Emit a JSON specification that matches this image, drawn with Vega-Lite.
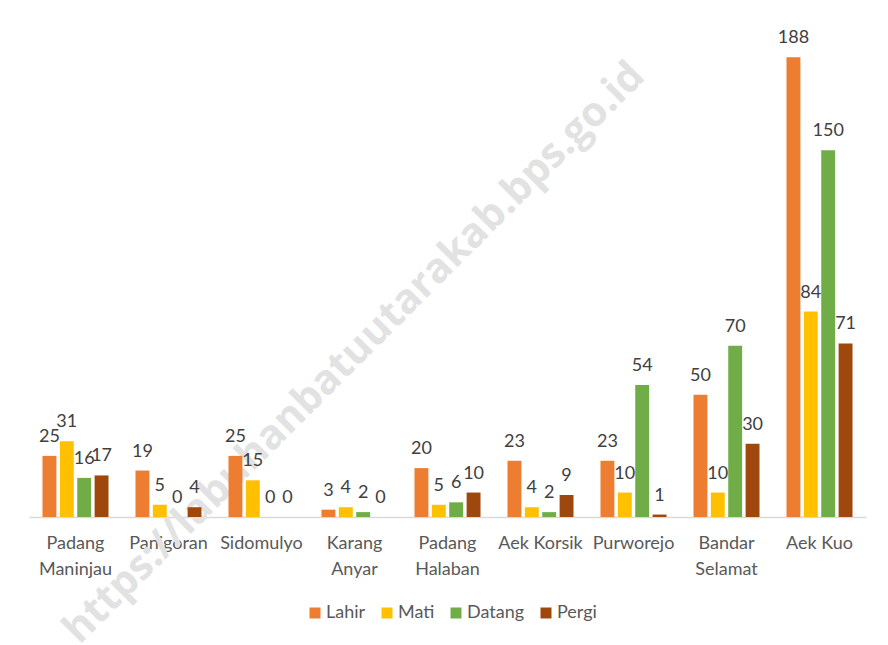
{
  "$schema": "https://vega.github.io/schema/vega-lite/v6.json",
  "width": 837,
  "height": 489,
  "autosize": "none",
  "padding": {"left": 29, "top": 28, "right": 22, "bottom": 128},
  "background": "white",
  "config": {
    "view": {"stroke": null},
    "font": "Lato"
  },
  "datasets": {
    "main": [
      {"desa": "Padang Maninjau", "jenis": "Lahir", "nilai": 25},
      {"desa": "Padang Maninjau", "jenis": "Mati", "nilai": 31},
      {"desa": "Padang Maninjau", "jenis": "Datang", "nilai": 16},
      {"desa": "Padang Maninjau", "jenis": "Pergi", "nilai": 17},
      {"desa": "Panigoran", "jenis": "Lahir", "nilai": 19},
      {"desa": "Panigoran", "jenis": "Mati", "nilai": 5},
      {"desa": "Panigoran", "jenis": "Datang", "nilai": 0},
      {"desa": "Panigoran", "jenis": "Pergi", "nilai": 4},
      {"desa": "Sidomulyo", "jenis": "Lahir", "nilai": 25},
      {"desa": "Sidomulyo", "jenis": "Mati", "nilai": 15},
      {"desa": "Sidomulyo", "jenis": "Datang", "nilai": 0},
      {"desa": "Sidomulyo", "jenis": "Pergi", "nilai": 0},
      {"desa": "Karang Anyar", "jenis": "Lahir", "nilai": 3},
      {"desa": "Karang Anyar", "jenis": "Mati", "nilai": 4},
      {"desa": "Karang Anyar", "jenis": "Datang", "nilai": 2},
      {"desa": "Karang Anyar", "jenis": "Pergi", "nilai": 0},
      {"desa": "Padang Halaban", "jenis": "Lahir", "nilai": 20},
      {"desa": "Padang Halaban", "jenis": "Mati", "nilai": 5},
      {"desa": "Padang Halaban", "jenis": "Datang", "nilai": 6},
      {"desa": "Padang Halaban", "jenis": "Pergi", "nilai": 10},
      {"desa": "Aek Korsik", "jenis": "Lahir", "nilai": 23},
      {"desa": "Aek Korsik", "jenis": "Mati", "nilai": 4},
      {"desa": "Aek Korsik", "jenis": "Datang", "nilai": 2},
      {"desa": "Aek Korsik", "jenis": "Pergi", "nilai": 9},
      {"desa": "Purworejo", "jenis": "Lahir", "nilai": 23},
      {"desa": "Purworejo", "jenis": "Mati", "nilai": 10},
      {"desa": "Purworejo", "jenis": "Datang", "nilai": 54},
      {"desa": "Purworejo", "jenis": "Pergi", "nilai": 1},
      {"desa": "Bandar Selamat", "jenis": "Lahir", "nilai": 50},
      {"desa": "Bandar Selamat", "jenis": "Mati", "nilai": 10},
      {"desa": "Bandar Selamat", "jenis": "Datang", "nilai": 70},
      {"desa": "Bandar Selamat", "jenis": "Pergi", "nilai": 30},
      {"desa": "Aek Kuo", "jenis": "Lahir", "nilai": 188},
      {"desa": "Aek Kuo", "jenis": "Mati", "nilai": 84},
      {"desa": "Aek Kuo", "jenis": "Datang", "nilai": 150},
      {"desa": "Aek Kuo", "jenis": "Pergi", "nilai": 71}
    ],
    "wm": [
      {"desa": "Karang Anyar", "nilai": 67, "teks": "https://labuhanbatuutarakab.bps.go.id"}
    ]
  },
  "encoding": {
    "x": {
      "field": "desa", "type": "nominal",
      "scale": {
        "domain": ["Padang Maninjau", "Panigoran", "Sidomulyo", "Karang Anyar", "Padang Halaban", "Aek Korsik", "Purworejo", "Bandar Selamat", "Aek Kuo"],
        "paddingInner": 0.29, "paddingOuter": 0.145
      },
      "axis": {
        "title": null, "labelAngle": 0, "ticks": false, "domainColor": "#d9d9d9", "domainWidth": 1.5,
        "labelFontSize": 18, "labelColor": "#595959", "labelFont": "Lato", "labelPadding": 17,
        "labelLineHeight": 26, "labelBaseline": "top",
        "labelExpr": "indexof(['Padang Maninjau','Karang Anyar','Padang Halaban','Bandar Selamat'], datum.value) >= 0 ? split(datum.value, ' ') : datum.value"
      }
    },
    "y": {
      "field": "nilai", "type": "quantitative",
      "scale": {"domain": [0, 200], "nice": false},
      "axis": null
    }
  },
  "layer": [
    {
      "data": {"name": "wm"},
      "mark": {"type": "text", "angle": 315, "fontSize": 41, "fontWeight": "bold", "color": "#e2e2e2", "align": "center", "baseline": "middle", "font": "Open Sans"},
      "encoding": {
        "text": {"field": "teks"}
      }
    },
    {
      "data": {"name": "main"},
      "mark": {"type": "bar"},
      "encoding": {
        "xOffset": {"field": "jenis", "type": "nominal", "sort": ["Lahir", "Mati", "Datang", "Pergi"], "scale": {"paddingInner": 0.2}},
        "color": {
          "field": "jenis", "type": "nominal",
          "scale": {"domain": ["Lahir", "Mati", "Datang", "Pergi"], "range": ["#ED7D31", "#FFC000", "#70AD47", "#9E480E"]},
          "legend": {
            "title": null, "orient": "none", "direction": "horizontal",
            "legendX": 277, "legendY": 576,
            "symbolType": "square", "symbolSize": 121, "symbolStrokeWidth": 0,
            "labelFontSize": 18, "labelColor": "#595959", "labelFont": "Lato",
            "columnPadding": 12, "labelOffset": 2
          }
        }
      }
    },
    {
      "data": {"name": "main"},
      "mark": {"type": "text", "fontSize": 18, "color": "#404040", "baseline": "bottom", "dy": -10},
      "encoding": {
        "xOffset": {"field": "jenis", "type": "nominal", "sort": ["Lahir", "Mati", "Datang", "Pergi"], "scale": {"paddingInner": 0.2}},
        "text": {"field": "nilai", "type": "quantitative"}
      }
    }
  ]
}
